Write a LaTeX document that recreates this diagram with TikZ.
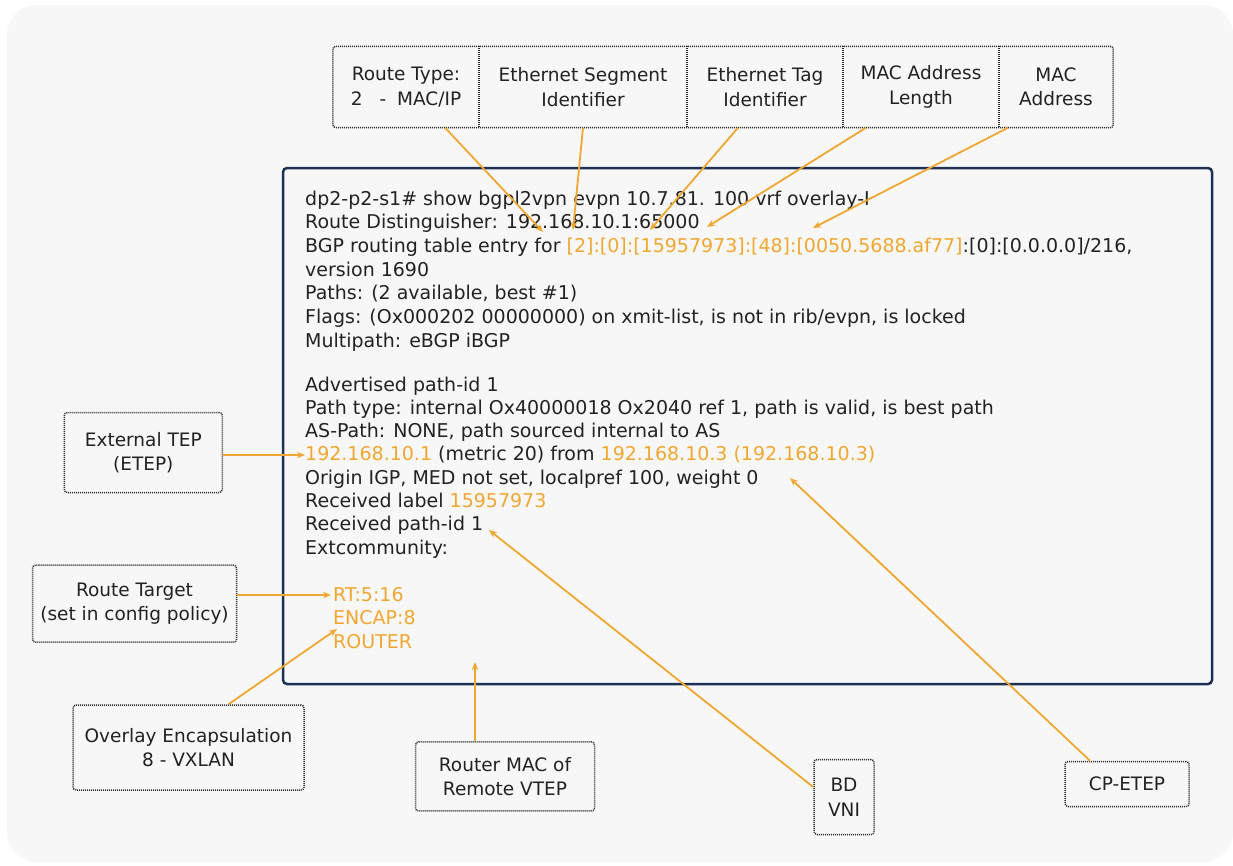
\documentclass[tikz,border=0pt]{standalone}
\usepackage{fontspec}
\setmainfont{DejaVu Sans}
\usetikzlibrary{arrows.meta}
\definecolor{bg}{HTML}{F7F7F7}
\definecolor{org}{HTML}{F0A732}
\definecolor{txt}{HTML}{222222}
\definecolor{navy}{HTML}{1F3152}
\definecolor{dotc}{HTML}{2A2A2A}
\begin{document}
\begin{tikzpicture}[x=1pt,y=-1pt,
  lbl/.style={font=\fontsize{18.5}{24.5}\selectfont, text=txt, align=center, inner sep=0},
  cell/.style={lbl, minimum height=81},
  dotbox/.style={draw=dotc, line width=1.5, dash pattern=on 1pt off 1pt},
  note/.style={lbl, dotbox, rounded corners=3},
  code/.style={font=\fontsize{19}{23.5}\selectfont, text=txt, anchor=base west, inner sep=0},
  arr/.style={draw=org, line width=1.8, -{Stealth[length=8,width=6.5]}}
]
\useasboundingbox (0,0) rectangle (1233,865);
\fill[white] (0,0) rectangle (1233,865);
\fill[bg, rounded corners=30] (7,5) rectangle (1233,862);

% top cells
\node[cell, minimum width=146] (c1) at (406,87) {Route Type:\\2\hspace{17pt}-\hspace{11pt}MAC/IP};
\node[cell, minimum width=208] (c2) at (583,87) {Ethernet Segment\\Identifier};
\node[cell, minimum width=156] (c3) at (765,87) {Ethernet Tag\\Identifier};
\node[cell, minimum width=156] (c4) at (921,87) {MAC Address\\Length};
\node[cell, minimum width=114] (c5) at (1056,87) {MAC\\Address};
\draw[dotbox, rounded corners=3] (c1.north west) rectangle (c5.south east);
\draw[dotbox] (c1.north east) -- (c1.south east);
\draw[dotbox] (c2.north east) -- (c2.south east);
\draw[dotbox] (c3.north east) -- (c3.south east);
\draw[dotbox] (c4.north east) -- (c4.south east);

% main box
\draw[navy, line width=2.5, fill=bg, rounded corners=4] (283,168) rectangle (1212,684);

\node[code] (l1) at (305,205) {dp2-p2-s1\# show bgpl2vpn evpn 10.7.81. 100 vrf overlay-I};
\node[code] (l2) at (305,228.7) {Route Distinguisher: 192.168.10.1:65000};
\node[code] (l3) at (305,252.4) {BGP routing table entry for \textcolor{org}{[2]:[0]:[15957973]:[48]:[0050.5688.af77]}:[0]:[0.0.0.0]/216,};
\node[code] (l4) at (305,276.1) {version 1690};
\node[code] (l5) at (305,299.8) {Paths: (2 available, best \#1)};
\node[code] (l6) at (305,323.5) {Flags: (Ox000202 00000000) on xmit-list, is not in rib/evpn, is locked};
\node[code] (l7) at (305,347.2) {Multipath: eBGP iBGP};
\node[code] (l8) at (305,391) {Advertised path-id 1};
\node[code] (l9) at (305,414.3) {Path type: internal Ox40000018 Ox2040 ref 1, path is valid, is best path};
\node[code] (l10) at (305,437.6) {AS-Path: NONE, path sourced internal to AS};
\node[code] (l11) at (305,460.9) {\textcolor{org}{192.168.10.1} (metric 20) from \textcolor{org}{192.168.10.3 (192.168.10.3)}};
\node[code] (l12) at (305,484.2) {Origin IGP, MED not set, localpref 100, weight 0};
\node[code] (l13) at (305,507.5) {Received label \textcolor{org}{15957973}};
\node[code] (l14) at (305,530.8) {Received path-id 1};
\node[code] (l15) at (305,554.1) {Extcommunity:};
\node[code, text=org] (l16) at (333,601) {RT:5:16};
\node[code, text=org] (l17) at (333,624.5) {ENCAP:8};
\node[code, text=org] (l18) at (333,648) {ROUTER};

% side notes
\node[note, minimum width=158, minimum height=80] (etep) at (143.3,452.5) {External TEP\\(ETEP)};
\node[note, minimum width=204, minimum height=77] (rt) at (134.5,603.7) {Route Target\\(set in config policy)};
\node[note, minimum width=231, minimum height=85] (ovl) at (188.5,747.5) {Overlay Encapsulation\\8 - VXLAN};
\node[note, minimum width=179, minimum height=69] (rmac) at (505,776.4) {Router MAC of\\Remote VTEP};
\node[note, minimum width=60, minimum height=75] (bd) at (844,797) {BD\\VNI};
\node[note, minimum width=124, minimum height=45] (cp) at (1127,784) {CP-ETEP};

% arrow tips
\coordinate (t1) at (543,232);
\coordinate (t2) at (573,230);
\coordinate (t3) at (650,230);
\coordinate (t4) at (707,227);
\coordinate (t5) at (813,228);
\coordinate (tetep) at (305,455);
\coordinate (trt) at (331,595);
\coordinate (tovl) at (337,629);
\coordinate (trmac) at (475,662);
\coordinate (tbd) at (489,530);
\coordinate (tcp) at (790,478);

\draw[arr] ([xshift=39]c1.south) -- (t1);
\draw[arr] (c2.south) -- (t2);
\draw[arr] ([xshift=-27]c3.south) -- (t3);
\draw[arr] ([xshift=-55]c4.south) -- (t4);
\draw[arr] ([xshift=-48]c5.south) -- (t5);
\draw[arr] ([yshift=-2.5]etep.east) -- (tetep);
\draw[arr] ([yshift=8.7]rt.east) -- (trt);
\draw[arr] ([xshift=40]ovl.north) -- (tovl);
\draw[arr] ([xshift=-30]rmac.north) -- (trmac);
\draw[arr] ([yshift=10]bd.west) -- (tbd);
\draw[arr] ([xshift=-37]cp.north) -- (tcp);
\end{tikzpicture}
\end{document}
